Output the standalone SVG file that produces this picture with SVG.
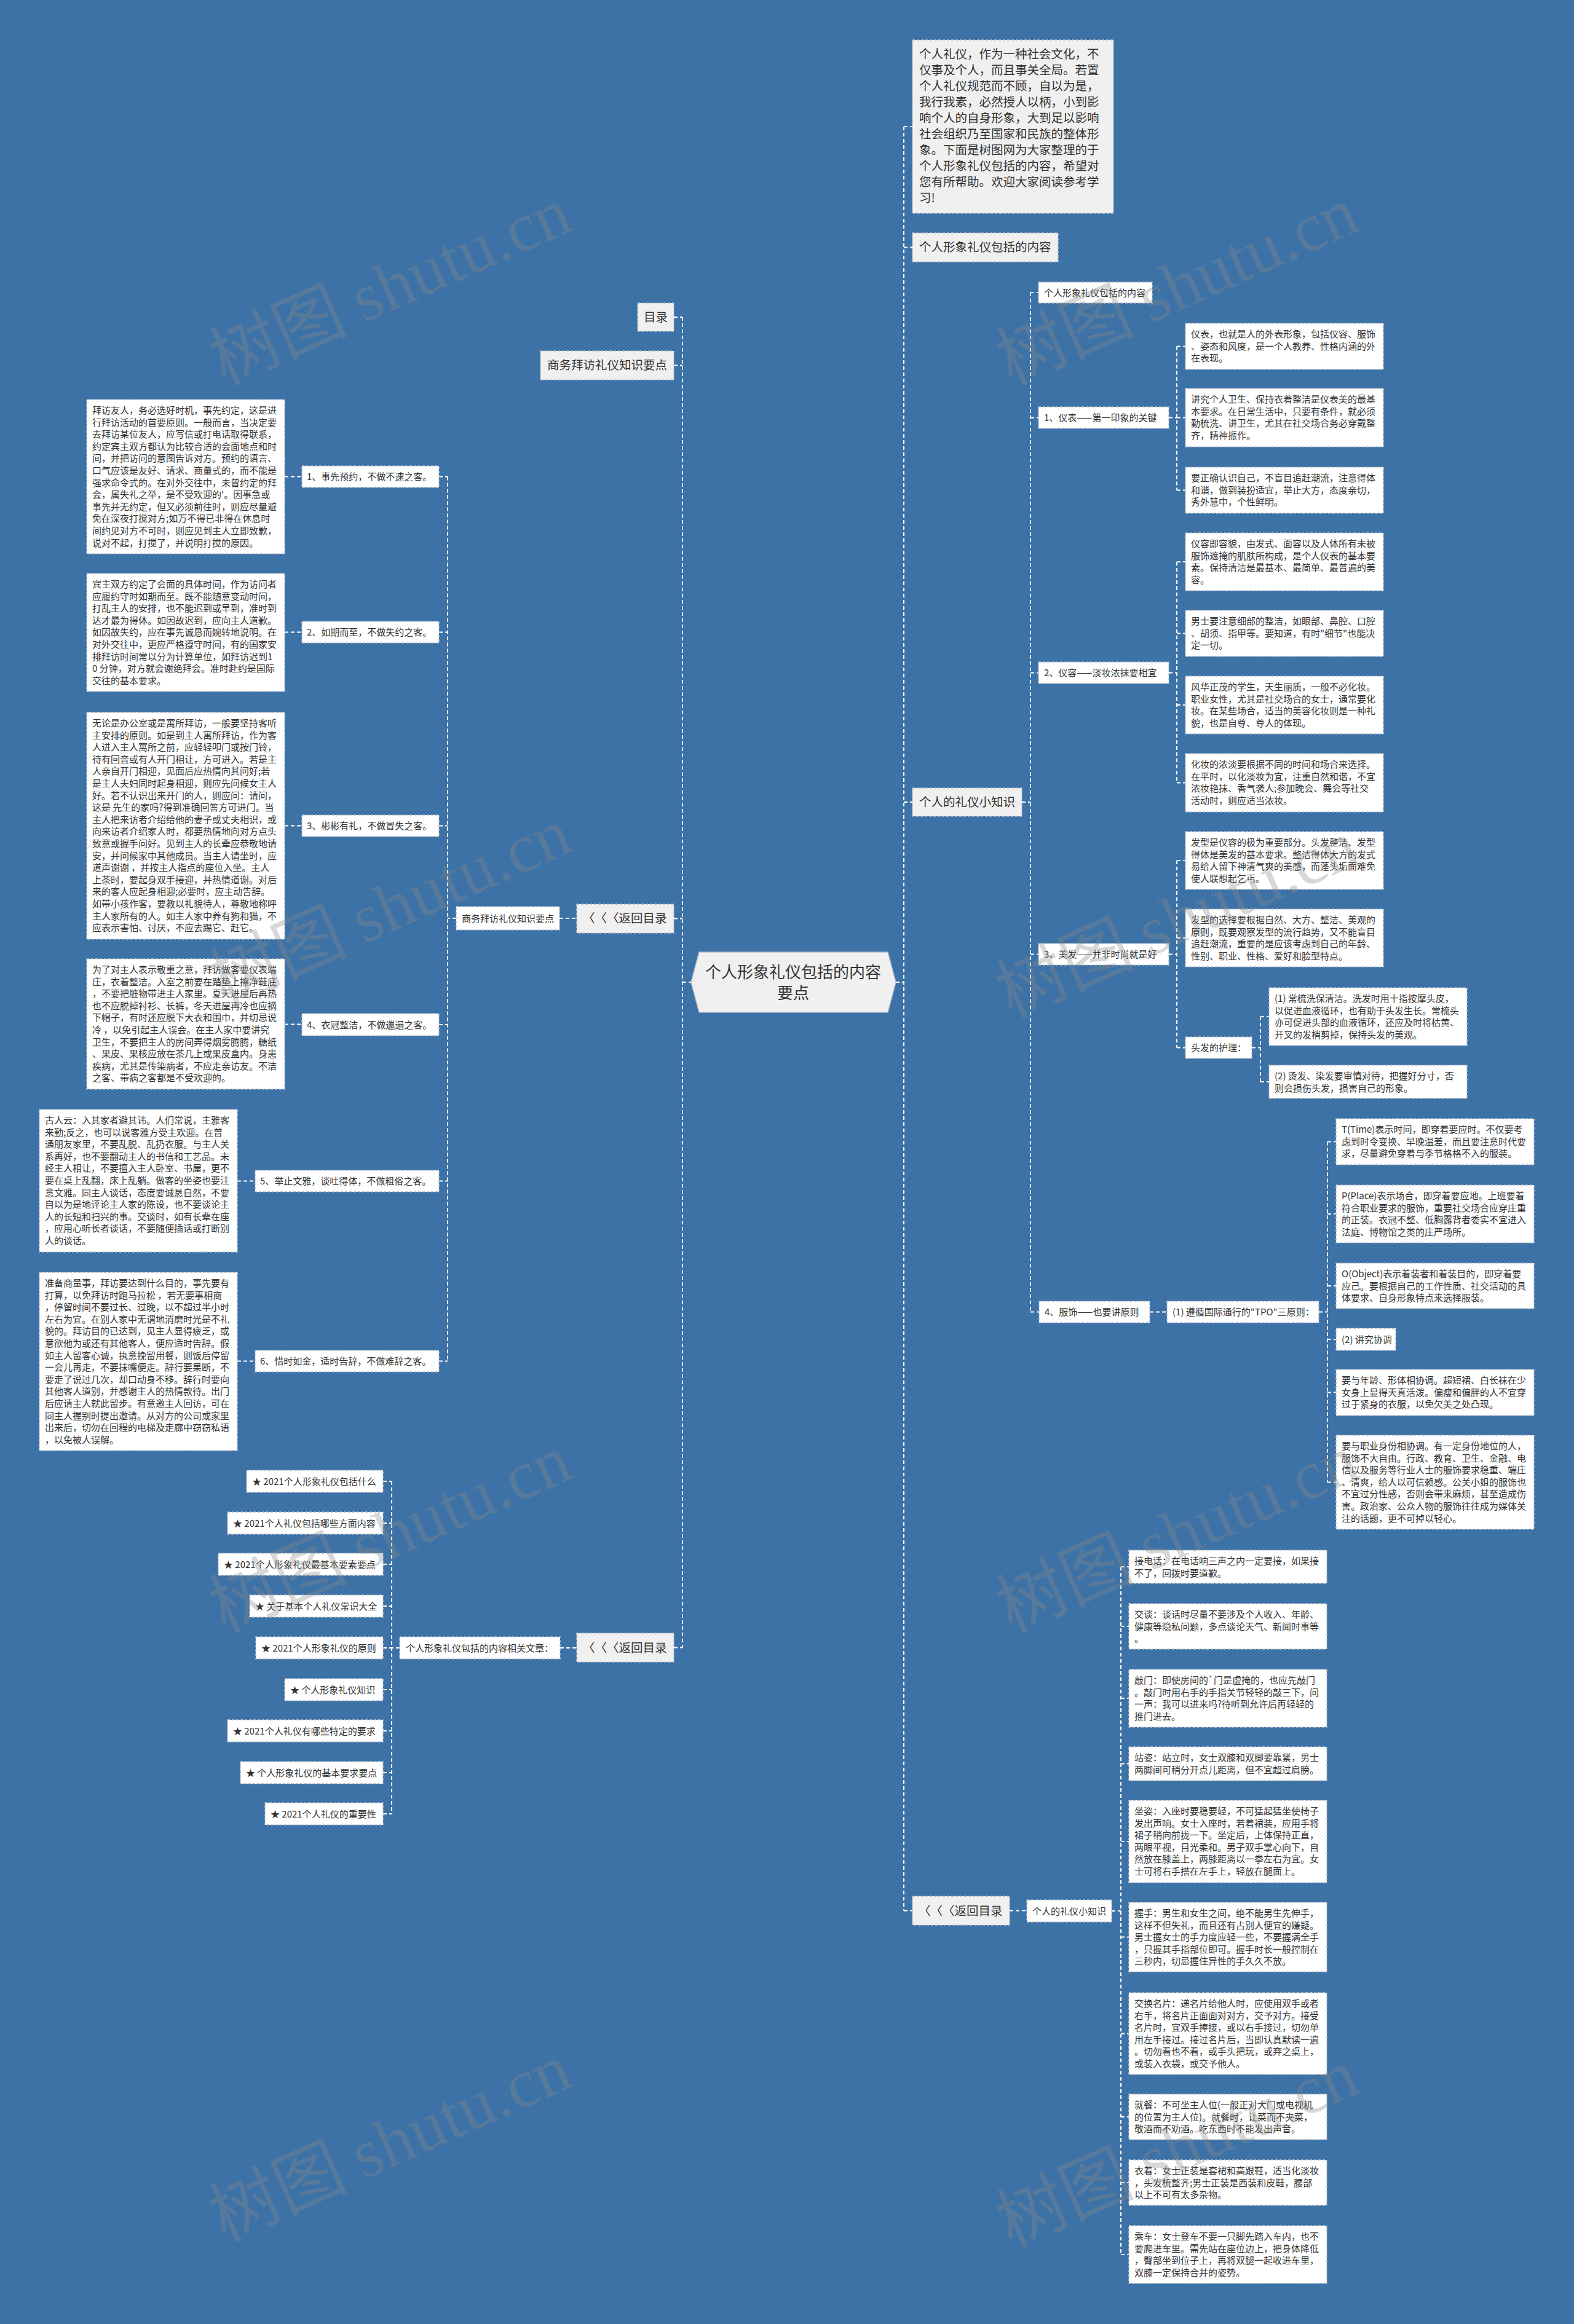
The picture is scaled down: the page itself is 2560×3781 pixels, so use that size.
<svg xmlns="http://www.w3.org/2000/svg" width="2560" height="3781" viewBox="0 0 2560 3781">
<style>
.n1{fill:#f0f0f0;stroke:#b4bfcb;stroke-width:1.5;stroke-dasharray:4 3}
.n2{fill:#ffffff;stroke:#b4bfcb;stroke-width:1.5;stroke-dasharray:4 3}
text{font-family:'Noto Sans CJK SC','Noto Sans',sans-serif;fill:#333333;text-spacing-trim:space-all}
.t20{font-size:19.5px}
.t15{font-size:15px}
.t26{font-size:26px}
.conn path{fill:none;stroke:#ffffff;stroke-width:2;stroke-dasharray:6 4}
.wm{font-size:112px;fill:#8a8a8a;opacity:0.33}
</style>
<rect x="0" y="0" width="2560" height="3781" fill="#3d72a6"/>

<g class="conn" id="connectors">
<path d="M1470,206 V3108.5 M1470,206 H1484 M1470,402.5 H1484 M1470,1305 H1484 M1470,3108.5 H1484 M1457,1598 H1470"/>
<path d="M1110,516 V2680.5 M1096,516 H1110 M1096,594.5 H1110 M1096,1494.5 H1110 M1096,2680.5 H1110 M1110,1598 H1124"/>
<path d="M910,1494 H938"/>
<path d="M728,775.5 V2214.5 M742,1494 H728 M714,775.5 H728 M714,1028.5 H728 M714,1343.5 H728 M714,1667 H728 M714,1921.5 H728 M714,2214.5 H728"/>
<path d="M463,775.5 H491 M463,1028.5 H491 M463,1343.5 H491 M463,1666.5 H491 M386,1921.5 H415 M386,2214.5 H415"/>
<path d="M911,2681 H938 M650,2681 H637 M637,2410 V2951 M623,2410 H637 M623,2478 H637 M623,2545 H637 M623,2613 H637 M623,2681 H637 M623,2749 H637 M623,2816 H637 M623,2884 H637 M623,2951 H637"/>
<path d="M1662,1305 H1676 M1676,476 V2134.5 M1676,476 H1689 M1676,679.5 H1689 M1676,1094.5 H1689 M1676,1552.5 H1689 M1676,2134.5 H1690"/>
<path d="M1901,679.5 H1914 M1914,563.5 V797.5 M1914,563.5 H1928 M1914,679.5 H1928 M1914,797.5 H1928"/>
<path d="M1901,1094.5 H1914 M1914,914 V1273.5 M1914,914 H1928 M1914,1030.5 H1928 M1914,1147 H1928 M1914,1273.5 H1928"/>
<path d="M1901,1552.5 H1914 M1914,1400 V1704.5 M1914,1400 H1928 M1914,1526 H1928 M1914,1704.5 H1928"/>
<path d="M2036,1704.5 H2050 M2050,1654 V1760 M2050,1654 H2064 M2050,1760 H2064"/>
<path d="M1870,2134.5 H1898 M2145,2134.5 H2159 M2159,1857.5 V2411.5 M2159,1857.5 H2173 M2159,1975 H2173 M2159,2092 H2173 M2159,2179 H2173 M2159,2265.5 H2173 M2159,2411.5 H2173"/>
<path d="M1642,3108.5 H1670 M1808,3109 H1823 M1823,2549 V3668 M1823,2549 H1836 M1823,2646 H1836 M1823,2763 H1836 M1823,2869.5 H1836 M1823,2996 H1836 M1823,3151.5 H1836 M1823,3308.5 H1836 M1823,3444 H1836 M1823,3551 H1836 M1823,3668 H1836"/>
</g>

<g id="center">
<polygon class="n1" points="1124,1598 1137,1549 1444,1549 1457,1598 1444,1647 1137,1647" style="stroke-dasharray:none"/>
<text class="t26" x="1290" y="1591" text-anchor="middle">个人形象礼仪包括的内容</text>
<text class="t26" x="1290" y="1625" text-anchor="middle">要点</text>
</g>

<g id="n-mulu"><rect class="n1" x="1037" y="493" width="59" height="46"/><text class="t20" x="1047" y="523">目录</text></g>
<g id="n-swbf"><rect class="n1" x="879" y="571" width="217" height="47"/><text class="t20" x="890" y="601">商务拜访礼仪知识要点</text></g>
<g id="n-back1"><rect class="n1" x="938" y="1471" width="158" height="47"/><text class="t20" x="948" y="1501">〈〈〈返回目录</text></g>
<g id="n-swbf2"><rect class="n2" x="742" y="1475" width="168" height="38"/><text class="t15" x="751" y="1499.5">商务拜访礼仪知识要点</text></g>

<g id="l1"><rect class="n2" x="491" y="758" width="223" height="35"/><text class="t15" x="499" y="781">1、事先预约，不做不速之客。</text></g>
<g id="l2"><rect class="n2" x="491" y="1011" width="223" height="35"/><text class="t15" x="499" y="1034">2、如期而至，不做失约之客。</text></g>
<g id="l3"><rect class="n2" x="491" y="1326" width="223" height="35"/><text class="t15" x="499" y="1349">3、彬彬有礼，不做冒失之客。</text></g>
<g id="l4"><rect class="n2" x="491" y="1649" width="223" height="36"/><text class="t15" x="499" y="1672.5">4、衣冠整洁，不做邋遢之客。</text></g>
<g id="l5"><rect class="n2" x="415" y="1904" width="299" height="35"/><text class="t15" x="423" y="1927">5、举止文雅，谈吐得体，不做粗俗之客。</text></g>
<g id="l6"><rect class="n2" x="415" y="2197" width="299" height="35"/><text class="t15" x="423" y="2220">6、惜时如金，适时告辞，不做难辞之客。</text></g>

<g id="b1"><rect class="n2" x="141" y="650" width="322" height="251"/>
<text class="t15" x="150" y="673"><tspan x="150">拜访友人，务必选好时机，事先约定，这是进</tspan><tspan x="150" dy="19.6">行拜访活动的首要原则。一般而言，当决定要</tspan><tspan x="150" dy="19.6">去拜访某位友人，应写信或打电话取得联系，</tspan><tspan x="150" dy="19.6">约定宾主双方都认为比较合适的会面地点和时</tspan><tspan x="150" dy="19.6">间，并把访问的意图告诉对方。预约的语言、</tspan><tspan x="150" dy="19.6">口气应该是友好、请求、商量式的，而不能是</tspan><tspan x="150" dy="19.6">强求命令式的。在对外交往中，未曾约定的拜</tspan><tspan x="150" dy="19.6">会，属失礼之举，是不受欢迎的'。因事急或</tspan><tspan x="150" dy="19.6">事先并无约定，但又必须前往时，则应尽量避</tspan><tspan x="150" dy="19.6">免在深夜打搅对方;如万不得已非得在休息时</tspan><tspan x="150" dy="19.6">间约见对方不可时，则应见到主人立即致歉，</tspan><tspan x="150" dy="19.6">说对不起，打搅了，并说明打搅的原因。</tspan></text></g>
<g id="b2"><rect class="n2" x="141" y="933" width="322" height="192"/>
<text class="t15" x="150" y="956"><tspan x="150">宾主双方约定了会面的具体时间，作为访问者</tspan><tspan x="150" dy="19.6">应履约守时如期而至。既不能随意变动时间，</tspan><tspan x="150" dy="19.6">打乱主人的安排，也不能迟到或早到，准时到</tspan><tspan x="150" dy="19.6">达才最为得体。如因故迟到，应向主人道歉。</tspan><tspan x="150" dy="19.6">如因故失约，应在事先诚恳而婉转地说明。在</tspan><tspan x="150" dy="19.6">对外交往中，更应严格遵守时间，有的国家安</tspan><tspan x="150" dy="19.6">排拜访时间常以分为计算单位，如拜访迟到1</tspan><tspan x="150" dy="19.6">0 分钟，对方就会谢绝拜会。准时赴约是国际</tspan><tspan x="150" dy="19.6">交往的基本要求。</tspan></text></g>
<g id="b3"><rect class="n2" x="141" y="1159" width="322" height="369"/>
<text class="t15" x="150" y="1182"><tspan x="150">无论是办公室或是寓所拜访，一般要坚持客听</tspan><tspan x="150" dy="19.6">主安排的原则。如是到主人寓所拜访，作为客</tspan><tspan x="150" dy="19.6">人进入主人寓所之前，应轻轻叩门或按门铃，</tspan><tspan x="150" dy="19.6">待有回音或有人开门相让，方可进入。若是主</tspan><tspan x="150" dy="19.6">人亲自开门相迎，见面后应热情向其问好;若</tspan><tspan x="150" dy="19.6">是主人夫妇同时起身相迎，则应先问候女主人</tspan><tspan x="150" dy="19.6">好。若不认识出来开门的人，则应问：请问，</tspan><tspan x="150" dy="19.6">这是 先生的家吗?得到准确回答方可进门。当</tspan><tspan x="150" dy="19.6">主人把来访者介绍给他的妻子或丈夫相识，或</tspan><tspan x="150" dy="19.6">向来访者介绍家人时，都要热情地向对方点头</tspan><tspan x="150" dy="19.6">致意或握手问好。见到主人的长辈应恭敬地请</tspan><tspan x="150" dy="19.6">安，并问候家中其他成员。当主人请坐时，应</tspan><tspan x="150" dy="19.6">道声谢谢 ，并按主人指点的座位入坐。主人</tspan><tspan x="150" dy="19.6">上茶时，要起身双手接迎，并热情道谢。对后</tspan><tspan x="150" dy="19.6">来的客人应起身相迎;必要时，应主动告辞。</tspan><tspan x="150" dy="19.6">如带小孩作客，要教以礼貌待人，尊敬地称呼</tspan><tspan x="150" dy="19.6">主人家所有的人。如主人家中养有狗和猫，不</tspan><tspan x="150" dy="19.6">应表示害怕、讨厌，不应去踢它、赶它。</tspan></text></g>
<g id="b4"><rect class="n2" x="141" y="1560" width="322" height="212"/>
<text class="t15" x="150" y="1583"><tspan x="150">为了对主人表示敬重之意，拜访做客要仪表端</tspan><tspan x="150" dy="19.6">庄，衣着整洁。入室之前要在踏垫上擦净鞋底</tspan><tspan x="150" dy="19.6">，不要把脏物带进主人家里。夏天进屋后再热</tspan><tspan x="150" dy="19.6">也不应脱掉衬衫、长裤，冬天进屋再冷也应摘</tspan><tspan x="150" dy="19.6">下帽子，有时还应脱下大衣和围巾，并切忌说</tspan><tspan x="150" dy="19.6">冷 ，以免引起主人误会。在主人家中要讲究</tspan><tspan x="150" dy="19.6">卫生，不要把主人的房间弄得烟雾腾腾，糖纸</tspan><tspan x="150" dy="19.6">、果皮、果核应放在茶几上或果皮盒内。身患</tspan><tspan x="150" dy="19.6">疾病，尤其是传染病者，不应走亲访友。不洁</tspan><tspan x="150" dy="19.6">之客、带病之客都是不受欢迎的。</tspan></text></g>
<g id="b5"><rect class="n2" x="64" y="1805" width="322" height="232"/>
<text class="t15" x="73" y="1828"><tspan x="73">古人云：入其家者避其讳。人们常说，主雅客</tspan><tspan x="73" dy="19.6">来勤;反之，也可以说客雅方受主欢迎。在普</tspan><tspan x="73" dy="19.6">通朋友家里，不要乱脱、乱扔衣服。与主人关</tspan><tspan x="73" dy="19.6">系再好，也不要翻动主人的书信和工艺品。未</tspan><tspan x="73" dy="19.6">经主人相让，不要擅入主人卧室、书屋，更不</tspan><tspan x="73" dy="19.6">要在桌上乱翻，床上乱躺。做客的坐姿也要注</tspan><tspan x="73" dy="19.6">意文雅。同主人谈话，态度要诚恳自然，不要</tspan><tspan x="73" dy="19.6">自以为是地评论主人家的陈设，也不要谈论主</tspan><tspan x="73" dy="19.6">人的长短和扫兴的事。交谈时，如有长辈在座</tspan><tspan x="73" dy="19.6">，应用心听长者谈话，不要随便插话或打断别</tspan><tspan x="73" dy="19.6">人的谈话。</tspan></text></g>
<g id="b6"><rect class="n2" x="64" y="2070" width="322" height="290"/>
<text class="t15" x="73" y="2093"><tspan x="73">准备商量事，拜访要达到什么目的，事先要有</tspan><tspan x="73" dy="19.6">打算，以免拜访时跑马拉松 ，若无要事相商</tspan><tspan x="73" dy="19.6">，停留时间不要过长、过晚，以不超过半小时</tspan><tspan x="73" dy="19.6">左右为宜。在别人家中无谓地消磨时光是不礼</tspan><tspan x="73" dy="19.6">貌的。拜访目的已达到，见主人显得疲乏，或</tspan><tspan x="73" dy="19.6">意欲他为或还有其他客人，便应适时告辞。假</tspan><tspan x="73" dy="19.6">如主人留客心诚，执意挽留用餐，则饭后停留</tspan><tspan x="73" dy="19.6">一会儿再走，不要抹嘴便走。辞行要果断，不</tspan><tspan x="73" dy="19.6">要走了说过几次，却口动身不移。辞行时要向</tspan><tspan x="73" dy="19.6">其他客人道别，并感谢主人的热情款待。出门</tspan><tspan x="73" dy="19.6">后应请主人就此留步。有意邀主人回访，可在</tspan><tspan x="73" dy="19.6">同主人握别时提出邀请。从对方的公司或家里</tspan><tspan x="73" dy="19.6">出来后，切勿在回程的电梯及走廊中窃窃私语</tspan><tspan x="73" dy="19.6">，以免被人误解。</tspan></text></g>

<g id="n-back2"><rect class="n1" x="938" y="2657" width="158" height="47"/><text class="t20" x="948" y="2688">〈〈〈返回目录</text></g>
<g id="n-rel"><rect class="n2" x="650" y="2663" width="261" height="36"/><text class="t15" x="660" y="2686.5">个人形象礼仪包括的内容相关文章：</text></g>
<g id="a1"><rect class="n2" x="401" y="2392" width="222" height="36"/><text class="t15" x="410" y="2415.5">★ 2021个人形象礼仪包括什么</text></g>
<g id="a2"><rect class="n2" x="370" y="2460" width="253" height="36"/><text class="t15" x="379" y="2483.5">★ 2021个人礼仪包括哪些方面内容</text></g>
<g id="a3"><rect class="n2" x="355" y="2527" width="268" height="36"/><text class="t15" x="364" y="2550.5">★ 2021个人形象礼仪最基本要素要点</text></g>
<g id="a4"><rect class="n2" x="406" y="2595" width="217" height="36"/><text class="t15" x="415" y="2618.5">★ 关于基本个人礼仪常识大全</text></g>
<g id="a5"><rect class="n2" x="416" y="2663" width="207" height="36"/><text class="t15" x="425" y="2686.5">★ 2021个人形象礼仪的原则</text></g>
<g id="a6"><rect class="n2" x="463" y="2731" width="160" height="36"/><text class="t15" x="472" y="2754.5">★ 个人形象礼仪知识</text></g>
<g id="a7"><rect class="n2" x="370" y="2798" width="253" height="36"/><text class="t15" x="379" y="2821.5">★ 2021个人礼仪有哪些特定的要求</text></g>
<g id="a8"><rect class="n2" x="391" y="2866" width="232" height="36"/><text class="t15" x="400" y="2889.5">★ 个人形象礼仪的基本要求要点</text></g>
<g id="a9"><rect class="n2" x="431" y="2933" width="192" height="36"/><text class="t15" x="440" y="2956.5">★ 2021个人礼仪的重要性</text></g>

<g id="r-intro"><rect class="n1" x="1484" y="65" width="327" height="282"/>
<text class="t20" x="1495" y="95"><tspan x="1495">个人礼仪，作为一种社会文化，不</tspan><tspan x="1495" dy="26">仅事及个人，而且事关全局。若置</tspan><tspan x="1495" dy="26">个人礼仪规范而不顾，自以为是，</tspan><tspan x="1495" dy="26">我行我素，必然授人以柄，小到影</tspan><tspan x="1495" dy="26">响个人的自身形象，大到足以影响</tspan><tspan x="1495" dy="26">社会组织乃至国家和民族的整体形</tspan><tspan x="1495" dy="26">象。下面是树图网为大家整理的于</tspan><tspan x="1495" dy="26">个人形象礼仪包括的内容，希望对</tspan><tspan x="1495" dy="26">您有所帮助。欢迎大家阅读参考学</tspan><tspan x="1495" dy="26">习!</tspan></text></g>
<g id="r-content"><rect class="n1" x="1484" y="379" width="237" height="47"/><text class="t20" x="1495" y="409">个人形象礼仪包括的内容</text></g>
<g id="r-know"><rect class="n1" x="1484" y="1282" width="178" height="46"/><text class="t20" x="1495" y="1312">个人的礼仪小知识</text></g>
<g id="r-back"><rect class="n1" x="1484" y="3085" width="158" height="47"/><text class="t20" x="1494" y="3115.5">〈〈〈返回目录</text></g>

<g id="s0"><rect class="n2" x="1689" y="459" width="185" height="34"/><text class="t15" x="1698" y="481.5">个人形象礼仪包括的内容</text></g>
<g id="s1"><rect class="n2" x="1689" y="662" width="212" height="35"/><text class="t15" x="1698" y="685">1、仪表——第一印象的关键</text></g>
<g id="s2"><rect class="n2" x="1689" y="1077" width="212" height="35"/><text class="t15" x="1698" y="1100">2、仪容——淡妆浓抹要相宜</text></g>
<g id="s3"><rect class="n2" x="1689" y="1535" width="212" height="35"/><text class="t15" x="1698" y="1558">3、美发——并非时尚就是好</text></g>
<g id="s4"><rect class="n2" x="1690" y="2117" width="180" height="35"/><text class="t15" x="1699" y="2140">4、服饰——也要讲原则</text></g>

<g id="c1a"><rect class="n2" x="1928" y="526" width="322" height="75"/>
<text class="t15" x="1937" y="549"><tspan x="1937">仪表，也就是人的外表形象，包括仪容、服饰</tspan><tspan x="1937" dy="19.6">、姿态和风度，是一个人教养、性格内涵的外</tspan><tspan x="1937" dy="19.6">在表现。</tspan></text></g>
<g id="c1b"><rect class="n2" x="1928" y="632" width="322" height="95"/>
<text class="t15" x="1937" y="655"><tspan x="1937">讲究个人卫生、保持衣着整洁是仪表美的最基</tspan><tspan x="1937" dy="19.6">本要求。在日常生活中，只要有条件，就必须</tspan><tspan x="1937" dy="19.6">勤梳洗、讲卫生，尤其在社交场合务必穿戴整</tspan><tspan x="1937" dy="19.6">齐，精神振作。</tspan></text></g>
<g id="c1c"><rect class="n2" x="1928" y="760" width="322" height="75"/>
<text class="t15" x="1937" y="783"><tspan x="1937">要正确认识自己，不盲目追赶潮流，注意得体</tspan><tspan x="1937" dy="19.6">和谐，做到装扮适宜，举止大方，态度亲切，</tspan><tspan x="1937" dy="19.6">秀外慧中，个性鲜明。</tspan></text></g>
<g id="c2a"><rect class="n2" x="1928" y="867" width="322" height="94"/>
<text class="t15" x="1937" y="890"><tspan x="1937">仪容即容貌，由发式、面容以及人体所有未被</tspan><tspan x="1937" dy="19.6">服饰遮掩的肌肤所构成，是个人仪表的基本要</tspan><tspan x="1937" dy="19.6">素。保持清洁是最基本、最简单、最普遍的美</tspan><tspan x="1937" dy="19.6">容。</tspan></text></g>
<g id="c2b"><rect class="n2" x="1928" y="993" width="322" height="75"/>
<text class="t15" x="1937" y="1016"><tspan x="1937">男士要注意细部的整洁，如眼部、鼻腔、口腔</tspan><tspan x="1937" dy="19.6">、胡须、指甲等。要知道，有时"细节"也能决</tspan><tspan x="1937" dy="19.6">定一切。</tspan></text></g>
<g id="c2c"><rect class="n2" x="1928" y="1100" width="322" height="94"/>
<text class="t15" x="1937" y="1123"><tspan x="1937">风华正茂的学生，天生丽质，一般不必化妆。</tspan><tspan x="1937" dy="19.6">职业女性，尤其是社交场合的女士，通常要化</tspan><tspan x="1937" dy="19.6">妆。在某些场合，适当的美容化妆则是一种礼</tspan><tspan x="1937" dy="19.6">貌，也是自尊、尊人的体现。</tspan></text></g>
<g id="c2d"><rect class="n2" x="1928" y="1226" width="322" height="95"/>
<text class="t15" x="1937" y="1249"><tspan x="1937">化妆的浓淡要根据不同的时间和场合来选择。</tspan><tspan x="1937" dy="19.6">在平时，以化淡妆为宜，注重自然和谐，不宜</tspan><tspan x="1937" dy="19.6">浓妆艳抹、香气袭人;参加晚会、舞会等社交</tspan><tspan x="1937" dy="19.6">活动时，则应适当浓妆。</tspan></text></g>
<g id="c3a"><rect class="n2" x="1928" y="1353" width="322" height="94"/>
<text class="t15" x="1937" y="1376"><tspan x="1937">发型是仪容的极为重要部分。头发整洁、发型</tspan><tspan x="1937" dy="19.6">得体是美发的基本要求。整洁得体大方的发式</tspan><tspan x="1937" dy="19.6">易给人留下神清气爽的美感，而蓬头垢面难免</tspan><tspan x="1937" dy="19.6">使人联想起乞丐。</tspan></text></g>
<g id="c3b"><rect class="n2" x="1928" y="1479" width="322" height="94"/>
<text class="t15" x="1937" y="1502"><tspan x="1937">发型的选择要根据自然、大方、整洁、美观的</tspan><tspan x="1937" dy="19.6">原则，既要观察发型的流行趋势，又不能盲目</tspan><tspan x="1937" dy="19.6">追赶潮流，重要的是应该考虑到自己的年龄、</tspan><tspan x="1937" dy="19.6">性别、职业、性格、爱好和脸型特点。</tspan></text></g>
<g id="c3c"><rect class="n2" x="1928" y="1687" width="108" height="35"/><text class="t15" x="1937" y="1710">头发的护理：</text></g>
<g id="h1"><rect class="n2" x="2064" y="1607" width="322" height="94"/>
<text class="t15" x="2073" y="1630"><tspan x="2073">(1) 常梳洗保清洁。洗发时用十指按摩头皮，</tspan><tspan x="2073" dy="19.6">以促进血液循环，也有助于头发生长。常梳头</tspan><tspan x="2073" dy="19.6">亦可促进头部的血液循环，还应及时将枯黄、</tspan><tspan x="2073" dy="19.6">开叉的发梢剪掉，保持头发的美观。</tspan></text></g>
<g id="h2"><rect class="n2" x="2064" y="1733" width="322" height="54"/>
<text class="t15" x="2073" y="1756"><tspan x="2073">(2) 烫发、染发要审慎对待，把握好分寸，否</tspan><tspan x="2073" dy="19.6">则会损伤头发，损害自己的形象。</tspan></text></g>

<g id="tpo"><rect class="n2" x="1898" y="2117" width="247" height="35"/><text class="t15" x="1907" y="2140">(1) 遵循国际通行的"TPO"三原则：</text></g>
<g id="tpo-t"><rect class="n2" x="2173" y="1820" width="322" height="75"/>
<text class="t15" x="2182" y="1843"><tspan x="2182">T(Time)表示时间，即穿着要应时。不仅要考</tspan><tspan x="2182" dy="19.6">虑到时令变换、早晚温差，而且要注意时代要</tspan><tspan x="2182" dy="19.6">求，尽量避免穿着与季节格格不入的服装。</tspan></text></g>
<g id="tpo-p"><rect class="n2" x="2173" y="1928" width="322" height="94"/>
<text class="t15" x="2182" y="1951"><tspan x="2182">P(Place)表示场合，即穿着要应地。上班要着</tspan><tspan x="2182" dy="19.6">符合职业要求的服饰，重要社交场合应穿庄重</tspan><tspan x="2182" dy="19.6">的正装。衣冠不整、低胸露背者委实不宜进入</tspan><tspan x="2182" dy="19.6">法庭、博物馆之类的庄严场所。</tspan></text></g>
<g id="tpo-o"><rect class="n2" x="2173" y="2055" width="322" height="74"/>
<text class="t15" x="2182" y="2078"><tspan x="2182">O(Object)表示着装者和着装目的，即穿着要</tspan><tspan x="2182" dy="19.6">应己。要根据自己的工作性质、社交活动的具</tspan><tspan x="2182" dy="19.6">体要求、自身形象特点来选择服装。</tspan></text></g>
<g id="xt"><rect class="n2" x="2173" y="2161" width="97" height="36"/><text class="t15" x="2182" y="2184.5">(2) 讲究协调</text></g>
<g id="xt-age"><rect class="n2" x="2173" y="2228" width="322" height="75"/>
<text class="t15" x="2182" y="2251"><tspan x="2182">要与年龄、形体相协调。超短裙、白长袜在少</tspan><tspan x="2182" dy="19.6">女身上显得天真活泼。偏瘦和偏胖的人不宜穿</tspan><tspan x="2182" dy="19.6">过于紧身的衣服，以免欠美之处凸现。</tspan></text></g>
<g id="xt-job"><rect class="n2" x="2173" y="2335" width="322" height="153"/>
<text class="t15" x="2182" y="2358"><tspan x="2182">要与职业身份相协调。有一定身份地位的人，</tspan><tspan x="2182" dy="19.6">服饰不大自由。行政、教育、卫生、金融、电</tspan><tspan x="2182" dy="19.6">信以及服务等行业人士的服饰要求稳重、端庄</tspan><tspan x="2182" dy="19.6">、清爽，给人以可信赖感。公关小姐的服饰也</tspan><tspan x="2182" dy="19.6">不宜过分性感，否则会带来麻烦，甚至造成伤</tspan><tspan x="2182" dy="19.6">害。政治家、公众人物的服饰往往成为媒体关</tspan><tspan x="2182" dy="19.6">注的话题，更不可掉以轻心。</tspan></text></g>

<g id="k0"><rect class="n2" x="1670" y="3091" width="138" height="36"/><text class="t15" x="1679" y="3114.5">个人的礼仪小知识</text></g>
<g id="k1"><rect class="n2" x="1836" y="2522" width="322" height="54"/>
<text class="t15" x="1845" y="2545"><tspan x="1845">接电话：在电话响三声之内一定要接，如果接</tspan><tspan x="1845" dy="19.6">不了，回拨时要道歉。</tspan></text></g>
<g id="k2"><rect class="n2" x="1836" y="2609" width="322" height="74"/>
<text class="t15" x="1845" y="2632"><tspan x="1845">交谈：谈话时尽量不要涉及个人收入、年龄、</tspan><tspan x="1845" dy="19.6">健康等隐私问题，多点谈论天气、新闻时事等</tspan><tspan x="1845" dy="19.6">。</tspan></text></g>
<g id="k3"><rect class="n2" x="1836" y="2716" width="322" height="94"/>
<text class="t15" x="1845" y="2739"><tspan x="1845">敲门：即使房间的`门是虚掩的，也应先敲门</tspan><tspan x="1845" dy="19.6">。敲门时用右手的手指关节轻轻的敲三下，问</tspan><tspan x="1845" dy="19.6">一声：我可以进来吗?待听到允许后再轻轻的</tspan><tspan x="1845" dy="19.6">推门进去。</tspan></text></g>
<g id="k4"><rect class="n2" x="1836" y="2842" width="322" height="55"/>
<text class="t15" x="1845" y="2865"><tspan x="1845">站姿：站立时，女士双膝和双脚要靠紧，男士</tspan><tspan x="1845" dy="19.6">两脚间可稍分开点儿距离，但不宜超过肩膀。</tspan></text></g>
<g id="k5"><rect class="n2" x="1836" y="2929" width="322" height="134"/>
<text class="t15" x="1845" y="2952"><tspan x="1845">坐姿：入座时要稳要轻，不可猛起猛坐使椅子</tspan><tspan x="1845" dy="19.6">发出声响。女士入座时，若着裙装，应用手将</tspan><tspan x="1845" dy="19.6">裙子稍向前拢一下。坐定后，上体保持正直，</tspan><tspan x="1845" dy="19.6">两眼平视，目光柔和。男子双手掌心向下，自</tspan><tspan x="1845" dy="19.6">然放在膝盖上，两膝距离以一拳左右为宜。女</tspan><tspan x="1845" dy="19.6">士可将右手搭在左手上，轻放在腿面上。</tspan></text></g>
<g id="k6"><rect class="n2" x="1836" y="3095" width="322" height="113"/>
<text class="t15" x="1845" y="3118"><tspan x="1845">握手：男生和女生之间，绝不能男生先伸手，</tspan><tspan x="1845" dy="19.6">这样不但失礼，而且还有占别人便宜的嫌疑。</tspan><tspan x="1845" dy="19.6">男士握女士的手力度应轻一些，不要握满全手</tspan><tspan x="1845" dy="19.6">，只握其手指部位即可。握手时长一般控制在</tspan><tspan x="1845" dy="19.6">三秒内，切忌握住异性的手久久不放。</tspan></text></g>
<g id="k7"><rect class="n2" x="1836" y="3242" width="322" height="133"/>
<text class="t15" x="1845" y="3265"><tspan x="1845">交换名片：递名片给他人时，应使用双手或者</tspan><tspan x="1845" dy="19.6">右手，将名片正面面对对方，交予对方。接受</tspan><tspan x="1845" dy="19.6">名片时，宜双手捧接，或以右手接过，切勿单</tspan><tspan x="1845" dy="19.6">用左手接过。接过名片后，当即认真默读一遍</tspan><tspan x="1845" dy="19.6">。切勿看也不看，或手头把玩，或弃之桌上，</tspan><tspan x="1845" dy="19.6">或装入衣袋，或交予他人。</tspan></text></g>
<g id="k8"><rect class="n2" x="1836" y="3407" width="322" height="74"/>
<text class="t15" x="1845" y="3430"><tspan x="1845">就餐：不可坐主人位(一般正对大门或电视机</tspan><tspan x="1845" dy="19.6">的位置为主人位)。就餐时，让菜而不夹菜，</tspan><tspan x="1845" dy="19.6">敬酒而不劝酒。吃东西时不能发出声音。</tspan></text></g>
<g id="k9"><rect class="n2" x="1836" y="3514" width="322" height="74"/>
<text class="t15" x="1845" y="3537"><tspan x="1845">衣着：女士正装是套裙和高跟鞋，适当化淡妆</tspan><tspan x="1845" dy="19.6">，头发梳整齐;男士正装是西装和皮鞋，腰部</tspan><tspan x="1845" dy="19.6">以上不可有太多杂物。</tspan></text></g>
<g id="k10"><rect class="n2" x="1836" y="3621" width="322" height="94"/>
<text class="t15" x="1845" y="3644"><tspan x="1845">乘车：女士登车不要一只脚先踏入车内，也不</tspan><tspan x="1845" dy="19.6">要爬进车里。需先站在座位边上，把身体降低</tspan><tspan x="1845" dy="19.6">，臀部坐到位子上，再将双腿一起收进车里，</tspan><tspan x="1845" dy="19.6">双膝一定保持合并的姿势。</tspan></text></g>

<g id="watermarks">
<text class="wm" transform="translate(650,500) rotate(-24)" text-anchor="middle">树图 <tspan style="font-family:'Liberation Serif',serif">shutu.cn</tspan></text>
<text class="wm" transform="translate(1930,500) rotate(-24)" text-anchor="middle">树图 <tspan style="font-family:'Liberation Serif',serif">shutu.cn</tspan></text>
<text class="wm" transform="translate(650,1510) rotate(-24)" text-anchor="middle">树图 <tspan style="font-family:'Liberation Serif',serif">shutu.cn</tspan></text>
<text class="wm" transform="translate(1930,1530) rotate(-24)" text-anchor="middle">树图 <tspan style="font-family:'Liberation Serif',serif">shutu.cn</tspan></text>
<text class="wm" transform="translate(650,2530) rotate(-24)" text-anchor="middle">树图 <tspan style="font-family:'Liberation Serif',serif">shutu.cn</tspan></text>
<text class="wm" transform="translate(1930,2530) rotate(-24)" text-anchor="middle">树图 <tspan style="font-family:'Liberation Serif',serif">shutu.cn</tspan></text>
<text class="wm" transform="translate(650,3520) rotate(-24)" text-anchor="middle">树图 <tspan style="font-family:'Liberation Serif',serif">shutu.cn</tspan></text>
<text class="wm" transform="translate(1930,3530) rotate(-24)" text-anchor="middle">树图 <tspan style="font-family:'Liberation Serif',serif">shutu.cn</tspan></text>
</g>
</svg>
